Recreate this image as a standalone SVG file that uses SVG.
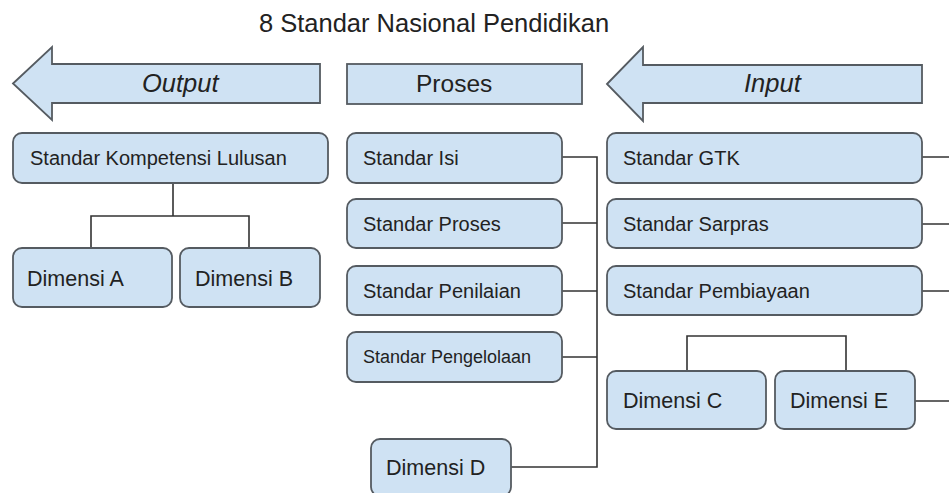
<svg xmlns="http://www.w3.org/2000/svg" width="949" height="493" viewBox="0 0 949 493">
<style>
.box{fill:#cfe2f3;stroke:#555b61;stroke-width:1.8}
.t{font-family:"Liberation Sans",Arial,sans-serif;fill:#222}
.s20{font-size:20px}
.s18{font-size:18px}
.s22{font-size:21.5px}
.hd{font-size:24.5px}
.it{font-style:italic;font-size:25.5px}
.ln{fill:none;stroke:#333;stroke-width:1.6}
</style>
<rect width="949" height="493" fill="#fff"/>
<text class="t" x="434" y="32" font-size="25.5" text-anchor="middle">8 Standar Nasional Pendidikan</text>

<g id="connectors">
<path class="ln" d="M173 183V216M91 248V216H249V248"/>
<path class="ln" d="M562 157H597V467H511M562 223H597M562 291H597M562 357H597"/>
<path class="ln" d="M922 157H949M922 224H949M922 291H949M915 401H949"/>
<path class="ln" d="M687 371V336H846V371"/>
</g>

<g id="output-arrow">
<path class="box" d="M13 83.5L52 47V64H320V103H52V120Z"/>
<text class="t hd it" x="142" y="92">Output</text>
</g>
<g id="proses-header">
<rect class="box" x="347" y="64" width="235" height="40"/>
<text class="t hd" x="416" y="92">Proses</text>
</g>
<g id="input-arrow">
<path class="box" d="M607 84L643 47V65H922V103H643V121Z"/>
<text class="t hd it" x="744" y="92">Input</text>
</g>

<g id="skl">
<rect class="box" x="13" y="133" width="315" height="50" rx="9"/>
<text class="t s20" x="30" y="165">Standar Kompetensi Lulusan</text>
</g>
<g id="dimensi-a">
<rect class="box" x="13" y="248" width="159" height="59" rx="9"/>
<text class="t s22" x="27" y="286">Dimensi A</text>
</g>
<g id="dimensi-b">
<rect class="box" x="180" y="248" width="140" height="59" rx="9"/>
<text class="t s22" x="195" y="286">Dimensi B</text>
</g>

<g id="standar-isi">
<rect class="box" x="347" y="133" width="215" height="50" rx="9"/>
<text class="t s20" x="363" y="165">Standar Isi</text>
</g>
<g id="standar-proses">
<rect class="box" x="347" y="199" width="215" height="49" rx="9"/>
<text class="t s20" x="363" y="231">Standar Proses</text>
</g>
<g id="standar-penilaian">
<rect class="box" x="347" y="266" width="215" height="49" rx="9"/>
<text class="t s20" x="363" y="298">Standar Penilaian</text>
</g>
<g id="standar-pengelolaan">
<rect class="box" x="347" y="332" width="215" height="50" rx="9"/>
<text class="t s18" x="363" y="363">Standar Pengelolaan</text>
</g>
<g id="dimensi-d">
<rect class="box" x="371" y="439" width="140" height="57" rx="9"/>
<text class="t s22" x="386" y="475">Dimensi D</text>
</g>

<g id="standar-gtk">
<rect class="box" x="607" y="133" width="315" height="50" rx="9"/>
<text class="t s20" x="623" y="165">Standar GTK</text>
</g>
<g id="standar-sarpras">
<rect class="box" x="607" y="199" width="315" height="49" rx="9"/>
<text class="t s20" x="623" y="231">Standar Sarpras</text>
</g>
<g id="standar-pembiayaan">
<rect class="box" x="607" y="266" width="315" height="49" rx="9"/>
<text class="t s20" x="623" y="298">Standar Pembiayaan</text>
</g>
<g id="dimensi-c">
<rect class="box" x="607" y="371" width="159" height="58" rx="9"/>
<text class="t s22" x="623" y="408">Dimensi C</text>
</g>
<g id="dimensi-e">
<rect class="box" x="775" y="371" width="140" height="58" rx="9"/>
<text class="t s22" x="790" y="408">Dimensi E</text>
</g>
</svg>
